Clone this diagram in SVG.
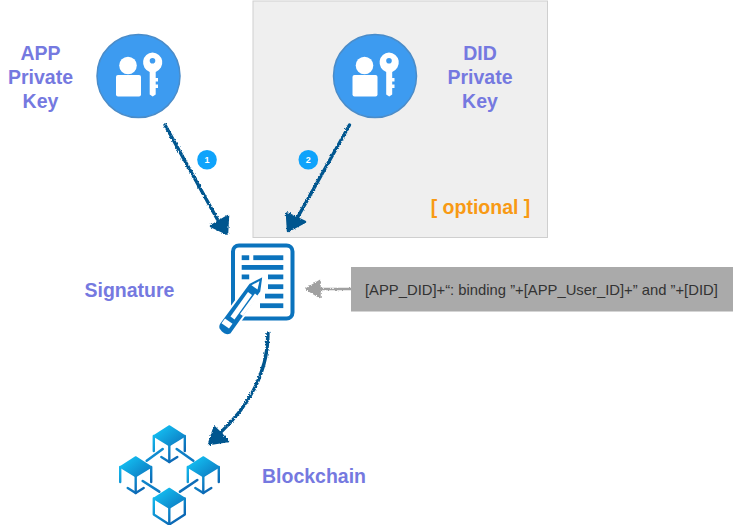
<svg xmlns="http://www.w3.org/2000/svg" width="733" height="525" viewBox="0 0 733 525">
<style>
.lbl{font-family:"Liberation Sans",Arial,sans-serif;font-weight:700;font-size:19.5px;fill:#7579e0;text-anchor:middle}
.num{font-family:"Liberation Sans",Arial,sans-serif;font-weight:700;font-size:9px;fill:#fff;text-anchor:middle}
.dk{fill:none;stroke:#00568f;stroke-width:3.4;stroke-linecap:round}
.hd{fill:#00568f;stroke:#00568f;stroke-width:2.500;stroke-linejoin:round}
.doc{fill:#0b73bd}
.edge{fill:none;stroke:url(#cube);stroke-width:2.400;stroke-linecap:round;stroke-linejoin:round}
</style>
<defs>
<filter id="rough" x="-20%" y="-20%" width="140%" height="140%">
<feTurbulence type="fractalNoise" baseFrequency="0.6" numOctaves="2" seed="3"/>
<feDisplacementMap in="SourceGraphic" scale="3" xChannelSelector="R" yChannelSelector="G"/>
</filter>
<linearGradient id="cube" gradientUnits="userSpaceOnUse" x1="-14" y1="-18" x2="14" y2="18">
<stop offset="0" stop-color="#14c8f8"/><stop offset="1" stop-color="#0a56a8"/>
</linearGradient>
<linearGradient id="link" gradientUnits="userSpaceOnUse" x1="120" y1="430" x2="215" y2="525">
<stop offset="0" stop-color="#12a8e8"/><stop offset="1" stop-color="#0b4f9f"/>
</linearGradient>
<g id="keyicon">
<circle cx="0" cy="0" r="41.500" fill="#3d9bf0" stroke="#4a8cc9" stroke-width="1.500"/>
<circle cx="-10.500" cy="-10.500" r="8.800" fill="#fff"/>
<rect x="-22.500" y="-1" width="25" height="21.500" rx="2" fill="#fff"/>
<path fill="#fff" fill-rule="evenodd" d="M14 -23.500a10 10 0 0 1 3.200 19.400V2h2.300v3.500h-2.300v3h2.300v3.500h-2.300v6.500l-3 2-3-2V-4.100A10 10 0 0 1 14 -23.500Zm0 5.500a2.800 2.800 0 1 0 0 5.600a2.800 2.800 0 0 0 0-5.600Z"/>
</g>
<g id="cubetop">
<path d="M0 -18L15.500 -8L0 1.500L-15.500 -8Z" fill="url(#cube)" stroke="url(#cube)" stroke-width="1.500" stroke-linejoin="round"/>
<path class="edge" d="M0 1.500V18"/>
</g>
<path id="cubeopen" class="edge" d="M-15.500 -8V7M15.500 -8V7M-8 13L0 18L8 13"/>
<path id="cubeclosed" class="edge" d="M-15.500 -8V8L0 18L15.500 8V-8"/>
</defs>

<g id="optional-panel">
<rect x="253" y="1" width="294.500" height="236.500" fill="#efefef" stroke="#cfcfcf" stroke-width="1"/>
<text x="480.500" y="213.500" font-family="'Liberation Sans',Arial,sans-serif" font-weight="700" font-size="19.500" fill="#f89a14" text-anchor="middle">[ optional ]</text>
</g>

<g id="app-key">
<use href="#keyicon" x="138.500" y="76"/>
<text class="lbl"><tspan x="40.500" y="59.500">APP</tspan><tspan x="40.500" y="83.500">Private</tspan><tspan x="40.500" y="107.500">Key</tspan></text>
</g>

<g id="did-key">
<use href="#keyicon" x="375" y="76"/>
<text class="lbl"><tspan x="480" y="59.500">DID</tspan><tspan x="480" y="83.500">Private</tspan><tspan x="480" y="107.500">Key</tspan></text>
</g>

<g id="signature">
<rect x="233" y="245.500" width="59.500" height="73" rx="6" fill="#fff" stroke="#0b73bd" stroke-width="4"/>
<g class="doc">
<rect x="241.700" y="255.300" width="7.500" height="4.800"/><rect x="253.300" y="255.300" width="30" height="4.800"/>
<rect x="241.700" y="265" width="41.600" height="4.800"/>
<rect x="241.700" y="274.500" width="7.500" height="4.800"/><rect x="268" y="274.500" width="15.300" height="4.800"/>
<rect x="268" y="284.300" width="15.300" height="4.800"/>
<rect x="265" y="293.700" width="18.300" height="4.800"/>
<rect x="260" y="303.300" width="23.300" height="4.800"/>
</g>
<path d="M263.500 275.500L261.200 291.800L231.200 334Q226 337 221.500 332.500L218.800 329Q217.500 326 219.500 323L248.800 283.200Z" fill="#0b73bd" stroke="#fff" stroke-width="2" stroke-linejoin="round"/>
<path d="M259.500 281L257.500 289.500L251.500 285.200Z" fill="#fff"/>
<path d="M248 292L252 295L234.500 319.500L230.500 316.500Z" fill="#fff"/>
<path d="M255 293.500L258 296L243 316L240 314Z" fill="#fff"/>
<path d="M225 318.500L232.500 323.800L229 328.500L221.500 323.200Z" fill="#fff"/>
</g>

<g id="message">
<rect x="351" y="267" width="382" height="44.500" fill="#aaaaaa"/>
<text x="365" y="295" font-family="'Liberation Sans',Arial,sans-serif" font-size="14.800" fill="#333">[APP_DID]+“: binding ”+[APP_User_ID]+” and ”+[DID]</text>
</g>

<g id="badge-1">
<circle cx="207" cy="159.800" r="9.800" fill="#0fa3fb"/>
<text class="num" x="207" y="163">1</text>
</g>
<g id="badge-2">
<circle cx="308.300" cy="159.800" r="9.800" fill="#0fa3fb"/>
<text class="num" x="308.300" y="163">2</text>
</g>

<g id="blockchain">
<g fill="none" stroke="url(#link)" stroke-width="2.600" stroke-linecap="round">
<path d="M146.700 460.700L162.700 449"/><path d="M176.700 449L193.300 460.700"/>
<path d="M142.700 481L159.300 491.700"/><path d="M180 491.700L197.300 480"/>
</g>
<g transform="translate(169.300 444)"><use href="#cubeopen"/><use href="#cubetop"/></g>
<g transform="translate(135.700 475)"><use href="#cubeopen"/><use href="#cubetop"/></g>
<g transform="translate(203.300 475)"><use href="#cubeopen"/><use href="#cubetop"/></g>
<g transform="translate(169.300 506.500)"><use href="#cubeclosed"/><use href="#cubetop"/></g>
<text class="lbl" x="314" y="483">Blockchain</text>
</g>
<text id="signature-label" class="lbl" x="129.500" y="297">Signature</text>

<g id="connectors">
<g filter="url(#rough)">
<path class="dk" d="M165 125L220 224"/>
<path class="hd" d="M227 233.500L211 226L228 216Z"/>
<path class="dk" d="M349.500 125L295 222"/>
<path class="hd" d="M288 231L287 213.500L305 222Z"/>
<path class="dk" d="M268 333C268 372 250 405 219 434"/>
<path class="hd" d="M209 444L214.500 427.500L228 441Z"/>
<path d="M351 289H318" fill="none" stroke="#a0a0a0" stroke-width="2.500"/>
<path d="M306 289L320 280.500V297.500Z" fill="#a0a0a0" stroke="#a0a0a0" stroke-width="1.500" stroke-linejoin="round"/>
</g>
</g>
</svg>
